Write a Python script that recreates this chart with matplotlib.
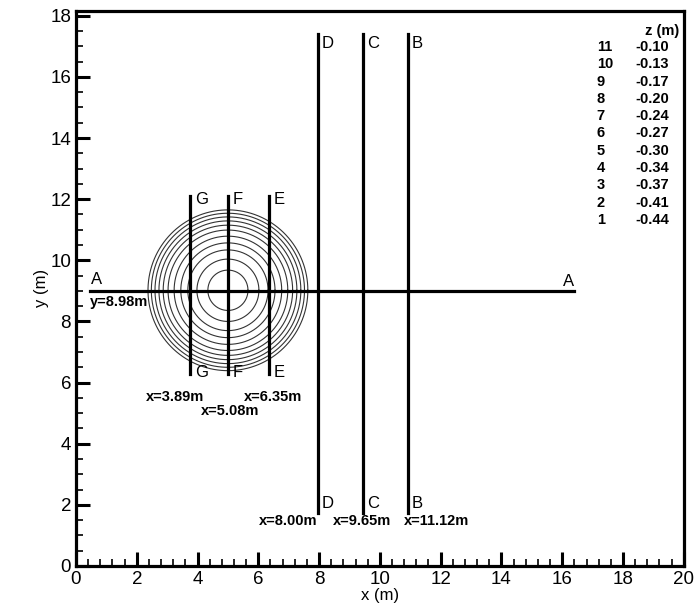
import matplotlib
matplotlib.use('Agg')
import matplotlib.pyplot as plt
import numpy as np
from matplotlib.ticker import MultipleLocator

plt.rcParams['font.family'] = ['Liberation Sans', 'DejaVu Sans']

# contour rings of the scour hole (radius in m)
center = (5.0, 9.02)
ring_radii = [0.66, 1.02, 1.32, 1.55, 1.77, 1.97, 2.13, 2.27, 2.40, 2.52, 2.63]

# legend table
levels = [11, 10, 9, 8, 7, 6, 5, 4, 3, 2, 1]
z_values = ['-0.10', '-0.13', '-0.17', '-0.20', '-0.24', '-0.27',
            '-0.30', '-0.34', '-0.37', '-0.41', '-0.44']

# section A-A (horizontal)
a_y = 9.0
a_x = [0.46, 16.4]
a_label = 'y=8.98m'

# sections near the pier (G, F, E)
near_names = ['G', 'F', 'E']
near_x = [3.75, 4.99, 6.35]
near_y = [6.28, 12.1]
near_labels = ['x=3.89m', 'x=5.08m', 'x=6.35m']

# sections downstream (D, C, B)
far_names = ['D', 'C', 'B']
far_x = [7.95, 9.45, 10.92]
far_y = [1.73, 17.4]
far_labels = ['x=8.00m', 'x=9.65m', 'x=11.12m']

fig = plt.figure(figsize=(6.97, 6.12), dpi=100)
ax = fig.add_axes([0.109, 0.0752, 0.872, 0.907])

# rings
t = np.linspace(0, 2 * np.pi, 400)
for r in ring_radii:
    ax.plot(center[0] + r * np.cos(t), center[1] + r * np.sin(t),
            color='#333333', lw=0.8, zorder=2)

# section lines
ax.plot(a_x, [a_y, a_y], color='black', lw=2.3, zorder=3)
for x in near_x:
    ax.plot([x, x], near_y, color='black', lw=2.3, zorder=3)
for x in far_x:
    ax.plot([x, x], far_y, color='black', lw=2.3, zorder=3)

# section letters
ax.text(0.69, 9.36, 'A', fontsize=12, ha='center', va='center')
ax.text(16.2, 9.3, 'A', fontsize=12, ha='center', va='center')
ax.text(1.41, 8.64, a_label, fontsize=10.5, fontweight='bold', ha='center', va='center')
for name, x in zip(near_names, near_x):
    ax.text(x + 0.16, 11.98, name, fontsize=12, ha='left', va='center')
    ax.text(x + 0.16, 6.32, name, fontsize=12, ha='left', va='center')
for name, x in zip(far_names, far_x):
    ax.text(x + 0.12, 17.1, name, fontsize=12, ha='left', va='center')
    ax.text(x + 0.12, 2.06, name, fontsize=12, ha='left', va='center')

# x position labels
near_pos = [(3.26, 5.53), (5.07, 5.07), (6.48, 5.53)]
for lab, (x, y) in zip(near_labels, near_pos):
    ax.text(x, y, lab, fontsize=10.5, fontweight='bold', ha='center', va='center')
far_pos = [(6.98, 1.47), (9.4, 1.47), (11.88, 1.47)]
for lab, (x, y) in zip(far_labels, far_pos):
    ax.text(x, y, lab, fontsize=10.5, fontweight='bold', ha='center', va='center')

# legend table
ax.text(19.28, 17.5, 'z (m)', fontsize=10.5, fontweight='bold', ha='center', va='center')
for i, (lv, zv) in enumerate(zip(levels, z_values)):
    yy = 16.98 - i * 0.566
    ax.text(17.14, yy, str(lv), fontsize=10.5, fontweight='bold', ha='left', va='center')
    ax.text(18.42, yy, zv, fontsize=10.5, fontweight='bold', ha='left', va='center')

ax.set_xlim(0, 20)
ax.set_ylim(0, 18.16)
ax.xaxis.set_major_locator(MultipleLocator(2))
ax.xaxis.set_minor_locator(MultipleLocator(0.4))
ax.yaxis.set_major_locator(MultipleLocator(2))
ax.yaxis.set_minor_locator(MultipleLocator(0.5))
ax.tick_params(which='major', direction='in', length=10, width=2.2, labelsize=13.5, pad=3.5)
ax.tick_params(which='minor', direction='in', length=5, width=1.2)
for s in ax.spines.values():
    s.set_linewidth(2.3)
ax.set_xlabel('x (m)', fontsize=12, labelpad=0)
ax.set_ylabel('y (m)', fontsize=12, labelpad=1)

fig.savefig('out.png', dpi=100)
